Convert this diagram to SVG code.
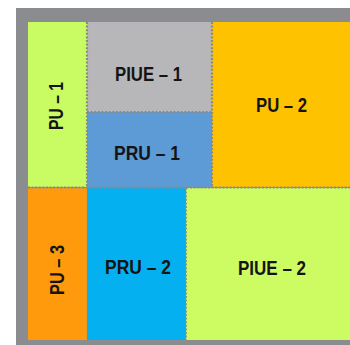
<svg xmlns="http://www.w3.org/2000/svg" width="350" height="345" viewBox="0 0 350 345">
<style>
.lbl{font-family:"Liberation Sans",Arial,sans-serif;font-weight:bold;font-size:20.5px;fill:#141414}
.sep{stroke:#8a8a8a;stroke-width:2.2;stroke-dasharray:2 1.6;fill:none}
</style>
<rect x="0" y="0" width="350" height="345" fill="#ffffff"/>
<rect id="frame" x="16" y="8" width="334" height="337" fill="#8b8c8f"/>
<g id="pu1"><rect x="28" y="22" width="59" height="165" fill="#c8fc62"/><text class="lbl" transform="translate(63,130) rotate(-90)" textLength="48" lengthAdjust="spacingAndGlyphs">PU – 1</text></g>
<g id="piue1"><rect x="87" y="22" width="125" height="90" fill="#b7b6b8"/><text class="lbl" x="115" y="81" textLength="67" lengthAdjust="spacingAndGlyphs">PIUE – 1</text></g>
<g id="pru1"><rect x="87" y="112" width="125" height="75" fill="#5d9bd6"/><text class="lbl" x="114" y="160" textLength="66" lengthAdjust="spacingAndGlyphs">PRU – 1</text></g>
<g id="pu2"><rect x="212" y="22" width="138" height="165" fill="#ffc200"/><text class="lbl" x="256" y="112" textLength="51" lengthAdjust="spacingAndGlyphs">PU – 2</text></g>
<g id="pu3"><rect x="28" y="188" width="59" height="152" fill="#ff9a0c"/><text class="lbl" transform="translate(64,295) rotate(-90)" textLength="50" lengthAdjust="spacingAndGlyphs">PU – 3</text></g>
<g id="pru2"><rect x="87" y="188" width="99" height="152" fill="#05b0f0"/><text class="lbl" x="105" y="274" textLength="66" lengthAdjust="spacingAndGlyphs">PRU – 2</text></g>
<g id="piue2"><rect x="186" y="188" width="164" height="152" fill="#ccfb62"/><text class="lbl" x="238" y="275" textLength="68" lengthAdjust="spacingAndGlyphs">PIUE – 2</text></g>
<g id="connectors">
<line class="sep" x1="87" y1="22" x2="87" y2="187"/>
<line class="sep" x1="87" y1="112" x2="212" y2="112"/>
<line class="sep" x1="212" y1="22" x2="212" y2="187"/>
<line class="sep" x1="28" y1="187.5" x2="350" y2="187.5"/>
<line class="sep" x1="186" y1="188" x2="186" y2="340" style="stroke-width:1.8"/>
<line class="sep" x1="87" y1="188" x2="87" y2="340" style="stroke-width:1;opacity:0.5"/>
</g>
</svg>
